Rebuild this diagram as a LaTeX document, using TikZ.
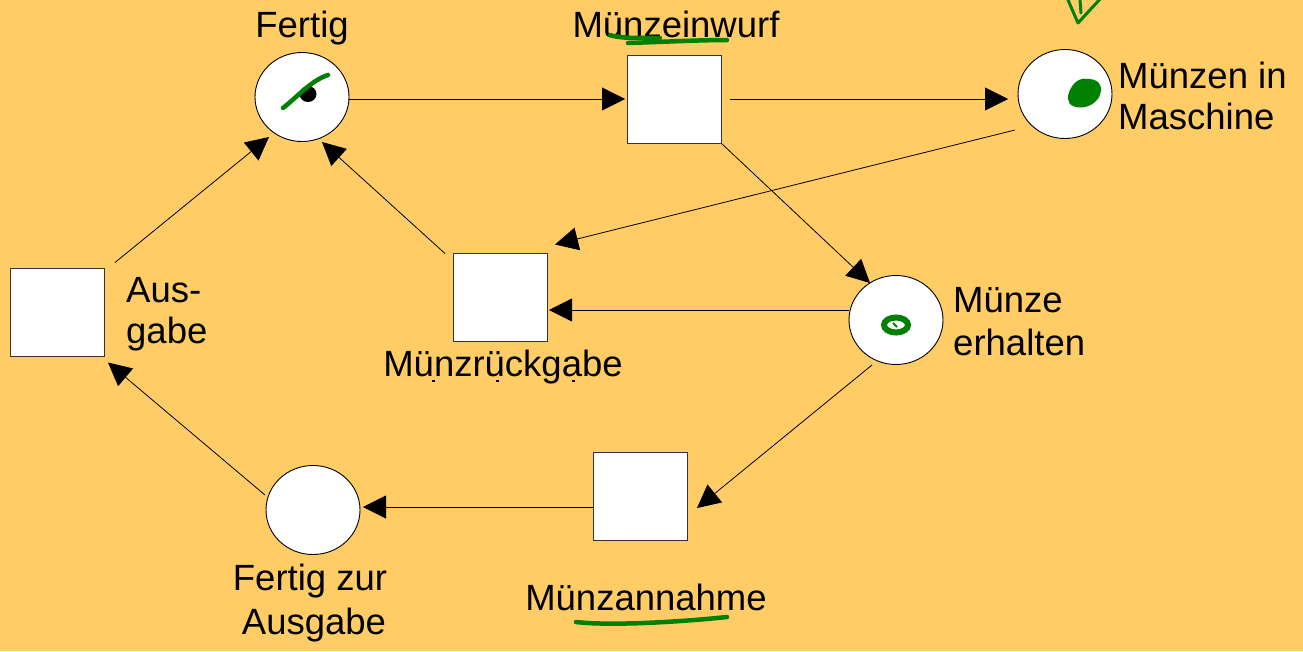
\documentclass[tikz,border=0pt]{standalone}
\usepackage{fontspec}
\setmainfont{Liberation Sans}
\usetikzlibrary{arrows.meta,calc,shapes.geometric}
\definecolor{bgorange}{RGB}{255,204,102}
\definecolor{pengreen}{RGB}{0,128,0}
\begin{document}
\begin{tikzpicture}[x=1pt,y=-1pt,
  place/.style={ellipse,draw=black,line width=0.9pt,fill=white,minimum width=94pt,minimum height=89pt,inner sep=0pt},
  trans/.style={rectangle,draw=black!80,line width=0.9pt,fill=white,minimum width=94pt,minimum height=88pt,inner sep=0pt},
  lbl/.style={font=\fontsize{36.5}{42}\selectfont,inner sep=0pt},
  arc/.style={draw=black,line width=0.8pt,-{Triangle[length=23pt,width=23pt]}},
  ink/.style={draw=pengreen,line width=4.5pt,line cap=round,line join=round}]
\useasboundingbox (0,0) rectangle (1303,651);
\fill[bgorange] (0,0) rectangle (1303,651);

% places
\node[place] (F) at (302,97) {};
\node[place] (M) at (1065,94) {};
\node[place] (H) at (896,320) {};
\node[place] (Z) at (313,510) {};
% transitions
\node[trans] (E) at (674,99) {};
\node[trans] (R) at (500,297.5) {};
\node[trans] (A) at (57,312.5) {};
\node[trans] (N) at (640,496) {};

% labels
\node[lbl,anchor=base] (lF) at (302,37) {Fertig};
\node[lbl,anchor=base] (lE) at (676,37) {Münzeinwurf};
\node[lbl,anchor=base west] (lM1) at (1118,88) {Münzen in};
\node[lbl,anchor=base west] (lM2) at (1118,129) {Maschine};
\node[lbl,anchor=base west] (lH1) at (953,312) {Münze};
\node[lbl,anchor=base west] (lH2) at (953,355) {erhalten};
\node[lbl,anchor=base west] (lA1) at (126,302) {Aus-};
\node[lbl,anchor=base west] (lA2) at (126,343) {gabe};
\node[lbl,anchor=base] (lR) at (503,376) {Münzrückgabe};
\node[lbl,anchor=base] (lN) at (646,610) {Münzannahme};
\node[lbl,anchor=base] (lZ1) at (310,590) {Fertig zur};
\node[lbl,anchor=base] (lZ2) at (314,634) {Ausgabe};

% arcs
\draw[arc] ($(F)+(47,2)$) -- ($(E)+(-49,0)$);
\draw[arc] ($(E)+(56,0)$) -- ($(M)+(-57,5)$);
\draw[arc] ($(E)+(47,44)$) -- ($(H)+(-26,-37)$);
\draw[arc] ($(M)+(-50,36)$) -- ($(R)+(55,-53)$);
\draw[arc] ($(H)+(-47,-10)$) -- ($(R)+(49,12.5)$);
\draw[arc] ($(R)+(-55,-44)$) -- ($(F)+(20,45)$);
\draw[arc] ($(A)+(58,-50)$) -- ($(F)+(-33,40)$);
\draw[arc] ($(H)+(-24,45)$) -- ($(N)+(57,12)$);
\draw[arc] ($(N)+(-47,11)$) -- ($(Z)+(50,-3)$);
\draw[arc] ($(Z)+(-48,-15)$) -- ($(A)+(51,50)$);

% token
\fill[black] ($(F)+(6,-3)$) ellipse (8.5 and 8);

% hand-drawn marks
\draw[ink] ($(F)+(-19,11)$) .. controls ($(F)+(-5,0)$) and ($(F)+(10,-17)$) .. ($(F)+(26,-22)$);
\draw[ink] (610,35) .. controls (618,38) and (630,38) .. (660,38);
\draw[ink] (628,43) .. controls (660,42) and (700,40) .. (727,40);
\draw[ink] (576,622) .. controls (610,626) and (680,622) .. (727,617);
\fill[pengreen] plot[smooth cycle,tension=0.7] coordinates
  {(1068,99) (1071,88) (1079,80) (1089,79) (1098,82) (1101,91) (1096,101) (1085,107) (1073,106)};
\draw[pengreen,line width=6pt] ($(H)+(0,5)$) ellipse (12 and 7.5);
\draw[pengreen,line width=2pt] ($(H)+(-3,3)$) -- ($(H)+(1,7)$);
\draw[pengreen,line width=3pt,line cap=round,line join=round] (1068,0) -- (1078,23) -- (1101,-2);
\draw[pengreen,line width=3pt,line cap=round] (1080,0) -- (1081,13);

% small ticks under the label
\fill[black] (432,380) rectangle (435,382);
\fill[black] (496,380) rectangle (499,382);
\fill[black] (572,380) rectangle (575,382);
\end{tikzpicture}
\end{document}
